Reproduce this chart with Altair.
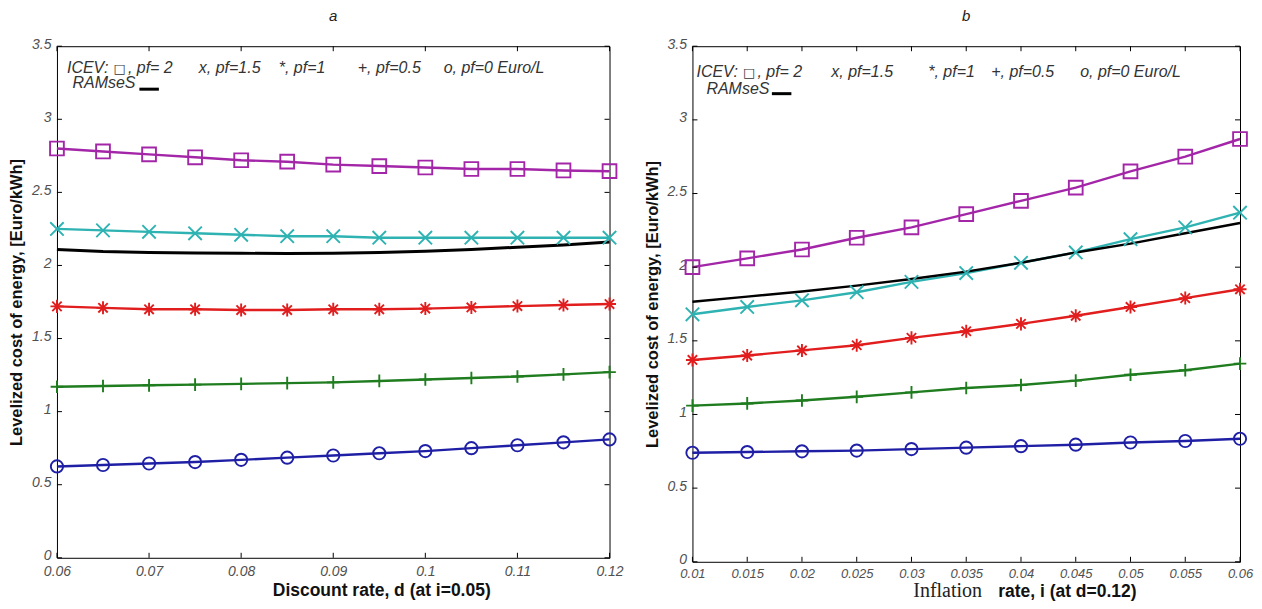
import altair as alt
import pandas as pd

# ---------------- data ----------------
series = ["pf=2", "pf=1.5", "pf=1", "pf=0.5", "pf=0"]

d_vals = [0.06, 0.065, 0.07, 0.075, 0.08, 0.085, 0.09, 0.095, 0.10, 0.105, 0.11, 0.115, 0.12]
a_pf2 = [2.80, 2.78, 2.76, 2.74, 2.72, 2.71, 2.69, 2.68, 2.67, 2.66, 2.66, 2.65, 2.645]
a_pf15 = [2.25, 2.24, 2.23, 2.22, 2.21, 2.20, 2.20, 2.19, 2.19, 2.19, 2.19, 2.19, 2.19]
a_pf1 = [1.72, 1.71, 1.70, 1.70, 1.695, 1.695, 1.70, 1.70, 1.705, 1.713, 1.722, 1.729, 1.736]
a_pf05 = [1.17, 1.175, 1.18, 1.185, 1.19, 1.195, 1.20, 1.21, 1.22, 1.23, 1.24, 1.255, 1.27]
a_pf0 = [0.625, 0.635, 0.645, 0.655, 0.67, 0.685, 0.70, 0.715, 0.73, 0.75, 0.77, 0.79, 0.81]
a_ramses = [2.11, 2.095, 2.088, 2.085, 2.083, 2.082, 2.083, 2.088, 2.098, 2.11, 2.125, 2.14, 2.16]

i_vals = [0.01, 0.015, 0.02, 0.025, 0.03, 0.035, 0.04, 0.045, 0.05, 0.055, 0.06]
b_pf2 = [2.00, 2.06, 2.12, 2.20, 2.27, 2.36, 2.45, 2.54, 2.65, 2.75, 2.87]
b_pf15 = [1.68, 1.73, 1.775, 1.83, 1.90, 1.96, 2.03, 2.10, 2.19, 2.27, 2.37]
b_pf1 = [1.37, 1.40, 1.435, 1.47, 1.52, 1.565, 1.615, 1.67, 1.73, 1.79, 1.85]
b_pf05 = [1.06, 1.075, 1.095, 1.12, 1.15, 1.18, 1.20, 1.23, 1.27, 1.30, 1.345]
b_pf0 = [0.74, 0.745, 0.75, 0.755, 0.765, 0.775, 0.785, 0.795, 0.81, 0.82, 0.835]
b_ramses = [1.765, 1.80, 1.835, 1.875, 1.92, 1.97, 2.03, 2.10, 2.16, 2.23, 2.30]

y_ticks = [0, 0.5, 1, 1.5, 2, 2.5, 3, 3.5]
a_xticks = [0.06, 0.07, 0.08, 0.09, 0.10, 0.11, 0.12]
b_xticks = [0.01, 0.015, 0.02, 0.025, 0.03, 0.035, 0.04, 0.045, 0.05, 0.055, 0.06]

legend_icev = ["ICEV:", "\u25a1", ", pf= 2"]
legend_items = ["x, pf=1.5", "*, pf=1", "+, pf=0.5", "o, pf=0 Euro/L"]
ramses_label = "RAMseS"
y_title = "Levelized cost of energy, [Euro/kWh]"
a_xtitle = "Discount rate, d (at i=0.05)"
b_xtitle_1 = "Inflation"
b_xtitle_2 = "rate, i (at d=0.12)"

# ---------------- styles ----------------
colors = ["#a326a8", "#2eb2b2", "#e11d1d", "#1f7d1f", "#1f1fa6"]
X_PATH = "M-1,-1L1,1M1,-1L-1,1"
AST_PATH = "M-1,0L1,0M0,-1L0,1M-0.72,-0.72L0.72,0.72M-0.72,0.72L0.72,-0.72"
PLUS_PATH = "M-1,0L1,0M0,-1L0,1"
shapes = ["square", X_PATH, AST_PATH, PLUS_PATH, "circle"]
sizes = [190, 150, 170, 175, 175]

FONT = "Liberation Sans"
TICK = 5
LEG_COLOR = "#333333"


def txt(s, px, py, size=16, font=FONT, style="italic", weight="normal", color=LEG_COLOR,
        align="left"):
    one = pd.DataFrame({"k": [0]})
    return alt.Chart(one).mark_text(
        align=align, baseline="middle", font=font, fontSize=size, fontStyle=style,
        fontWeight=weight, color=color).encode(
        x=alt.value(px), y=alt.value(py), text=alt.value(s))


def panel(xvals, ys, ramses, xticks, xdomain, W, H, title, label_pad, label_size,
          icev_x, legend_x, legend_y, ramses_x, ramses_y, seg, seg_y, ram_width):
    rows = []
    for s, vals in zip(series, ys):
        for xv, yv in zip(xvals, vals):
            rows.append({"x": xv, "y": yv, "s": s})
    df = pd.DataFrame(rows)
    rdf = pd.DataFrame({"x": xvals, "y": ramses})

    xscale = alt.Scale(domain=xdomain, nice=False, zero=False)
    yscale = alt.Scale(domain=[0, 3.5], nice=False, zero=True)
    xaxis = alt.Axis(values=xticks, format="~g", ticks=False, domain=False, grid=False,
                     labelFlush=False, labelOverlap=False, title=None,
                     labelPadding=label_pad, labelFontSize=label_size)
    yaxis = alt.Axis(values=y_ticks, format="~g", ticks=False, domain=False, grid=False,
                     labelFlush=False, labelOverlap=False, title=y_title, labelOffset=-2)

    X = alt.X("x:Q", scale=xscale, axis=xaxis)
    Y = alt.Y("y:Q", scale=yscale, axis=yaxis)

    color = alt.Color("s:N", scale=alt.Scale(domain=series, range=colors), legend=None)
    shape = alt.Shape("s:N", scale=alt.Scale(domain=series, range=shapes), legend=None)
    size = alt.Size("s:N", scale=alt.Scale(domain=series, range=sizes), legend=None)

    lines = alt.Chart(df).mark_line(strokeWidth=2.4).encode(x=X, y=Y, color=color, detail="s:N")
    pts = alt.Chart(df).mark_point(filled=False, strokeWidth=1.9, opacity=1).encode(
        x=X, y=Y, color=color, shape=shape, size=size)
    ram = alt.Chart(rdf).mark_line(strokeWidth=ram_width, color="black").encode(x=X, y=Y)

    ytdf = pd.DataFrame({"y": y_ticks})
    xtdf = pd.DataFrame({"x": xticks})
    tl = alt.Chart(ytdf).mark_rule(color="black", strokeWidth=1).encode(
        y=Y, x=alt.value(0), x2=alt.value(TICK))
    tr = alt.Chart(ytdf).mark_rule(color="black", strokeWidth=1).encode(
        y=Y, x=alt.value(W - TICK), x2=alt.value(W))
    tb = alt.Chart(xtdf).mark_rule(color="black", strokeWidth=1).encode(
        x=X, y=alt.value(H - TICK), y2=alt.value(H))
    tt = alt.Chart(xtdf).mark_rule(color="black", strokeWidth=1).encode(
        x=X, y=alt.value(0), y2=alt.value(TICK))

    texts = [
        txt(legend_icev[0], icev_x[0], legend_y),
        txt(legend_icev[1], icev_x[1], legend_y + 1, size=13, font="DejaVu Sans", style="normal"),
        txt(legend_icev[2], icev_x[2], legend_y),
    ]
    for lbl, px in zip(legend_items, legend_x):
        texts.append(txt(lbl, px, legend_y))
    texts.append(txt(ramses_label, ramses_x, ramses_y))
    one = pd.DataFrame({"k": [0]})
    segm = alt.Chart(one).mark_rule(color="black", strokeWidth=3).encode(
        x=alt.value(seg[0]), x2=alt.value(seg[1]), y=alt.value(seg_y))
    ttl = txt(title, W / 2, -30, size=15, color="#222222", align="center")

    layers = [lines, ram, pts, tl, tr, tb, tt, segm, ttl] + texts
    return alt.layer(*layers).properties(width=W, height=H)


WA, HA = 553, 512
pa = panel(d_vals, [a_pf2, a_pf15, a_pf1, a_pf05, a_pf0], a_ramses, a_xticks,
           [0.06, 0.12], WA, HA, "a", 7, 14,
           [10, 56.5, 71], [142, 222, 301, 387], 21.5, 15.5, 37, (82.5, 102), 43, 3)
pa = alt.layer(
    pa,
    txt(a_xtitle, 216, HA + 33.5, size=17.5, style="normal", weight="bold", color="#111111"),
)

WB, HB = 548, 516
pb = panel(i_vals, [b_pf2, b_pf15, b_pf1, b_pf05, b_pf0], b_ramses, b_xticks,
           [0.01, 0.06], WB, HB, "b", 6, 13,
           [4, 50.5, 65], [139, 236, 299, 388], 26, 14, 42.5, (79.5, 99), 47.5, 2.4)
pb = alt.layer(
    pb,
    txt(b_xtitle_1, 221, HB + 29, size=20, font="Liberation Serif", style="normal",
        color="#222222"),
    txt(b_xtitle_2, 306, HB + 30, size=17.5, style="normal", weight="bold", color="#111111"),
)

chart = alt.hconcat(pa, pb, spacing=19).properties(
    padding={"left": 0, "top": 0, "right": 0, "bottom": 0}
).configure_view(stroke="black", strokeWidth=1).configure_axis(
    labelFont=FONT, labelFontSize=14, labelFontStyle="italic", labelColor="#505050",
    labelPadding=6, titleFont=FONT, titleFontSize=16.5, titleFontWeight="bold",
    titleColor="#111111", titlePadding=7
)

chart.save("out.html", embed_options={"renderer": "svg", "actions": False})
